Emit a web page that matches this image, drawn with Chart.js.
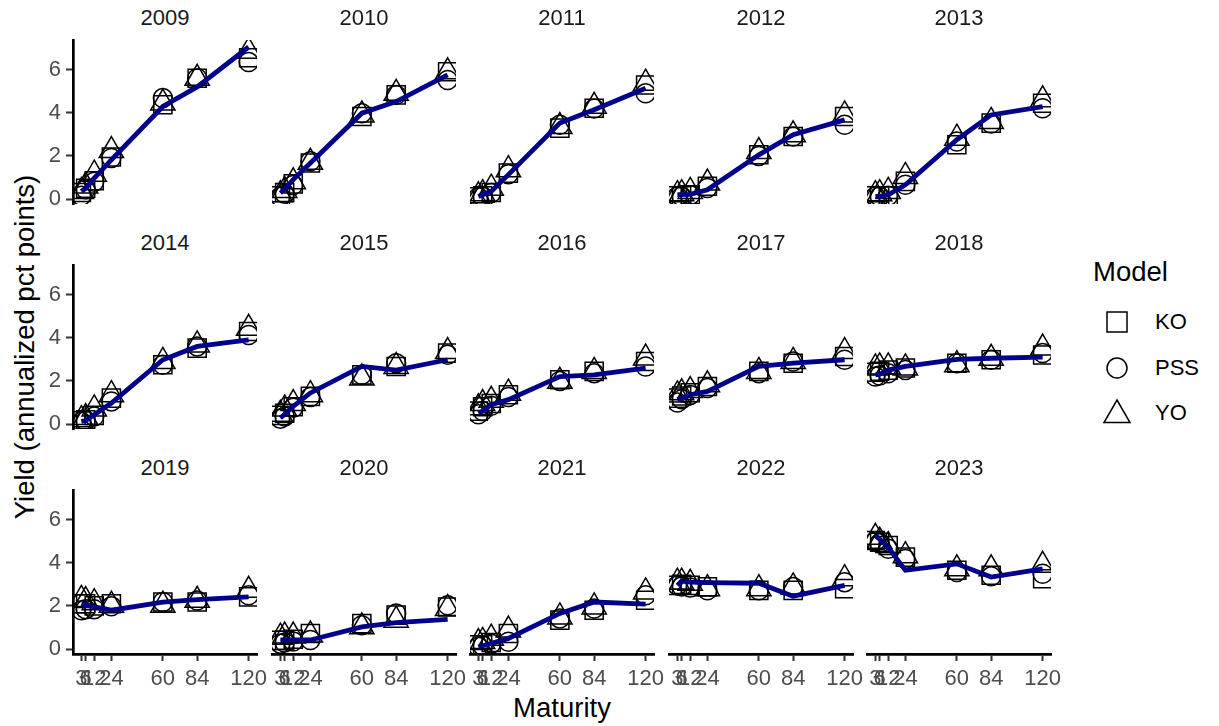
<!DOCTYPE html>
<html>
<head>
<meta charset="utf-8">
<script src="https://cdn.jsdelivr.net/npm/chart.js@4/dist/chart.umd.min.js"></script>
<style>
  body { margin: 0; background: #fff; font-family: "Liberation Sans", Arial, sans-serif; }
  #wrap { position: relative; width: 1219px; height: 726px; overflow: hidden; background: #fff; }
  canvas { position: absolute; }
  .strip { position: absolute; width: 184px; text-align: center; font-size: 22px; line-height: 22px; color: #1a1a1a; }
  .title { position: absolute; font-size: 27.5px; line-height: 28px; color: #000; white-space: nowrap; }
  .key { position: absolute; font-size: 22px; line-height: 22px; color: #000; }
  svg { position: absolute; }
</style>
</head>
<body>
<div id="wrap">
  <div class="title" style="left:562px;top:694px;transform:translateX(-50%)">Maturity</div>
  <div class="title" style="left:25px;top:347px;transform:translate(-50%,-50%) rotate(-90deg)">Yield (annualized pct points)</div>
  <div class="title" style="left:1093px;top:258px">Model</div>
  <svg style="left:1102px;top:307px" width="30" height="30"><rect x="5" y="5" width="20" height="20" fill="none" stroke="#000" stroke-width="1.5"/></svg>
  <svg style="left:1102px;top:353px" width="30" height="30"><circle cx="15" cy="15" r="10" fill="none" stroke="#000" stroke-width="1.5"/></svg>
  <svg style="left:1102px;top:398px" width="30" height="30"><polygon points="15,2 28,24.5 2,24.5" fill="none" stroke="#000" stroke-width="1.5"/></svg>
  <div class="key" style="left:1155px;top:311px">KO</div>
  <div class="key" style="left:1155px;top:357px">PSS</div>
  <div class="key" style="left:1155px;top:402px">YO</div>
</div>
<script>
// facets, maturities (months) and tick values
const years = ['2009', '2010', '2011', '2012', '2013', '2014', '2015', '2016', '2017', '2018', '2019', '2020', '2021', '2022', '2023'];
const maturities = [3, 6, 12, 24, 60, 84, 120];
const yTicks = [0, 2, 4, 6];

// observed yield curve per year (navy line)
const actual = [
  [0.35, 0.5, 0.97, 1.82, 4.29, 5.2, 7.05],
  [0.28, 0.45, 0.9, 1.67, 3.98, 4.52, 5.76],
  [0.12, 0.2, 0.35, 1.13, 3.52, 4.14, 5.14],
  [0.2, 0.2, 0.22, 0.43, 2.05, 2.98, 3.67],
  [0.12, 0.12, 0.2, 0.66, 2.75, 3.9, 4.29],
  [0.12, 0.15, 0.43, 0.97, 2.98, 3.6, 3.9],
  [0.28, 0.45, 0.82, 1.44, 2.67, 2.5, 2.98],
  [0.51, 0.6, 0.9, 1.13, 2.2, 2.28, 2.59],
  [1.13, 1.2, 1.36, 1.51, 2.67, 2.82, 2.98],
  [2.28, 2.3, 2.5, 2.67, 3.0, 3.05, 3.1],
  [2.1, 2.05, 1.95, 1.8, 2.18, 2.29, 2.42],
  [0.42, 0.42, 0.42, 0.42, 1.03, 1.22, 1.37],
  [0.1, 0.15, 0.26, 0.49, 1.65, 2.18, 2.08],
  [2.95, 3.15, 3.1, 3.08, 3.05, 2.45, 2.95],
  [5.26, 5.1, 4.72, 3.65, 3.95, 3.34, 3.72]
];

const ko = [
  [0.3, 0.5, 0.85, 1.95, 4.37, 5.6, 6.55],
  [0.15, 0.3, 0.7, 1.67, 3.83, 4.83, 5.9],
  [0.1, 0.15, 0.3, 1.2, 3.29, 4.21, 5.29],
  [0.15, 0.15, 0.2, 0.59, 2.05, 2.9, 3.83],
  [0.15, 0.15, 0.15, 0.82, 2.52, 3.52, 4.44],
  [0.15, 0.2, 0.4, 1.2, 2.75, 3.52, 4.29],
  [0.4, 0.5, 0.8, 1.28, 2.28, 2.67, 3.29],
  [0.6, 0.8, 0.95, 1.36, 2.05, 2.44, 2.9],
  [1.2, 1.3, 1.45, 1.74, 2.44, 2.82, 3.13],
  [2.4, 2.45, 2.5, 2.6, 2.82, 2.98, 3.2],
  [2.1, 2.1, 2.0, 2.1, 2.18, 2.18, 2.42],
  [0.4, 0.4, 0.45, 0.72, 1.18, 1.57, 1.95],
  [0.2, 0.2, 0.3, 0.72, 1.34, 1.8, 2.26],
  [2.95, 3.0, 2.95, 2.88, 2.72, 2.72, 2.8],
  [5.03, 4.95, 4.8, 4.26, 3.65, 3.42, 3.26]
];

const pss = [
  [0.15, 0.45, 0.8, 1.9, 4.68, 5.6, 6.35],
  [0.1, 0.25, 0.65, 1.75, 3.98, 4.83, 5.52],
  [0.08, 0.12, 0.28, 1.15, 3.44, 4.2, 4.9],
  [0.12, 0.12, 0.18, 0.51, 2.0, 2.9, 3.44],
  [0.12, 0.12, 0.15, 0.66, 2.67, 3.5, 4.21],
  [0.1, 0.15, 0.35, 1.05, 2.75, 3.6, 4.13],
  [0.25, 0.35, 0.75, 1.25, 2.28, 2.82, 3.21],
  [0.45, 0.6, 0.85, 1.25, 2.0, 2.36, 2.67],
  [1.0, 1.15, 1.35, 1.67, 2.36, 2.9, 2.98],
  [2.2, 2.25, 2.35, 2.5, 2.82, 2.98, 3.29],
  [1.8, 1.85, 1.85, 1.98, 2.18, 2.25, 2.49],
  [0.25, 0.3, 0.35, 0.42, 1.1, 1.65, 2.03],
  [0.1, 0.15, 0.25, 0.34, 1.42, 1.88, 2.49],
  [2.95, 2.9, 2.85, 2.72, 2.72, 2.88, 3.1],
  [5.0, 4.9, 4.65, 4.18, 3.57, 3.37, 3.49]
];

const yo = [
  [0.35, 0.6, 1.15, 2.25, 4.45, 5.6, 6.85],
  [0.2, 0.4, 0.8, 1.7, 3.9, 4.9, 5.9],
  [0.15, 0.25, 0.5, 1.36, 3.36, 4.3, 5.37],
  [0.2, 0.25, 0.35, 0.74, 2.2, 2.98, 3.9],
  [0.2, 0.25, 0.35, 1.05, 2.82, 3.6, 4.6],
  [0.2, 0.3, 0.7, 1.36, 2.9, 3.67, 4.44],
  [0.45, 0.7, 0.95, 1.36, 2.13, 2.67, 3.36],
  [0.75, 0.95, 1.1, 1.43, 1.98, 2.44, 3.06],
  [1.35, 1.45, 1.55, 1.82, 2.44, 2.9, 3.36],
  [2.6, 2.65, 2.65, 2.6, 2.75, 3.05, 3.52],
  [2.3, 2.25, 2.15, 2.03, 2.03, 2.26, 2.72],
  [0.55, 0.6, 0.6, 0.65, 1.03, 1.34, 1.88],
  [0.3, 0.35, 0.5, 0.88, 1.49, 1.95, 2.65],
  [3.1, 3.1, 3.05, 2.8, 2.8, 2.88, 3.26],
  [5.18, 5.0, 4.8, 4.33, 3.72, 3.72, 3.88]
];

const FONT = '"Liberation Sans", Arial, sans-serif';
const panelW = 184, panelH = 164;
const colLeft = [73, 272, 470, 669, 867];
const rowTop = [40, 265, 490];

const wrap = document.getElementById('wrap');
const pts = arr => maturities.map((m, i) => ({ x: m, y: arr[i] }));

function shapeSet(arr, style, radius) {
  return {
    data: pts(arr), pointStyle: style, pointRadius: radius,
    pointBorderColor: '#000', pointBorderWidth: 1.5,
    pointBackgroundColor: 'rgba(0,0,0,0)', showLine: false, clip: 0
  };
}

years.forEach((yr, k) => {
  const c = k % 5, r = Math.floor(k / 5);
  const left = c === 0, bottom = r === 2;
  // padding big enough for the y tick labels so the plot area does not move
  const padL = left ? 73 : 6, padR = 26, padT = 22, padB = bottom ? 54 : 22;

  const strip = document.createElement('div');
  strip.className = 'strip';
  strip.style.left = colLeft[c] + 'px';
  strip.style.top = (rowTop[r] - 33) + 'px';
  strip.textContent = yr;
  wrap.appendChild(strip);

  const cv = document.createElement('canvas');
  cv.width = padL + panelW + padR;
  cv.height = padT + panelH + padB;
  cv.style.left = (colLeft[c] - padL) + 'px';
  cv.style.top = (rowTop[r] - padT) + 'px';
  wrap.appendChild(cv);

  new Chart(cv, {
    type: 'scatter',
    data: {
      datasets: [
        { type: 'line', data: pts(actual[k]), borderColor: '#00008b', borderWidth: 4.8,
          pointRadius: 0, fill: false, tension: 0, clip: 0 },
        shapeSet(ko[k], 'rect', 12.8),
        shapeSet(pss[k], 'circle', 9.5),
        shapeSet(yo[k], 'triangle', 14)
      ]
    },
    options: {
      responsive: false,
      animation: false,
      devicePixelRatio: 1,
      layout: {
        autoPadding: false,
        padding: { left: left ? 0 : padL, right: padR, top: padT, bottom: bottom ? 0 : padB }
      },
      plugins: { legend: { display: false }, tooltip: { enabled: false } },
      scales: {
        x: {
          type: 'linear', min: -2.85, max: 125.85, display: bottom,
          afterBuildTicks: s => { s.ticks = maturities.map(v => ({ value: v })); },
          afterFit: s => { if (bottom) s.height = padB; },
          ticks: { autoSkip: false, maxRotation: 0, minRotation: 0, padding: 5, color: '#4d4d4d', font: { family: FONT, size: 22 } },
          grid: { drawOnChartArea: false, tickLength: 7, tickWidth: 2, tickColor: '#333' },
          border: { color: '#000', width: 2.7 }
        },
        y: {
          type: 'linear', min: -0.231, max: 7.375, display: left,
          afterBuildTicks: s => { s.ticks = yTicks.map(v => ({ value: v })); },
          afterFit: s => { if (left) s.width = padL; },
          ticks: { padding: 5, color: '#4d4d4d', font: { family: FONT, size: 22 } },
          grid: { drawOnChartArea: false, tickLength: 7, tickWidth: 2, tickColor: '#333' },
          border: { color: '#000', width: 2.7 }
        }
      }
    }
  });
});
</script>
</body>
</html>
